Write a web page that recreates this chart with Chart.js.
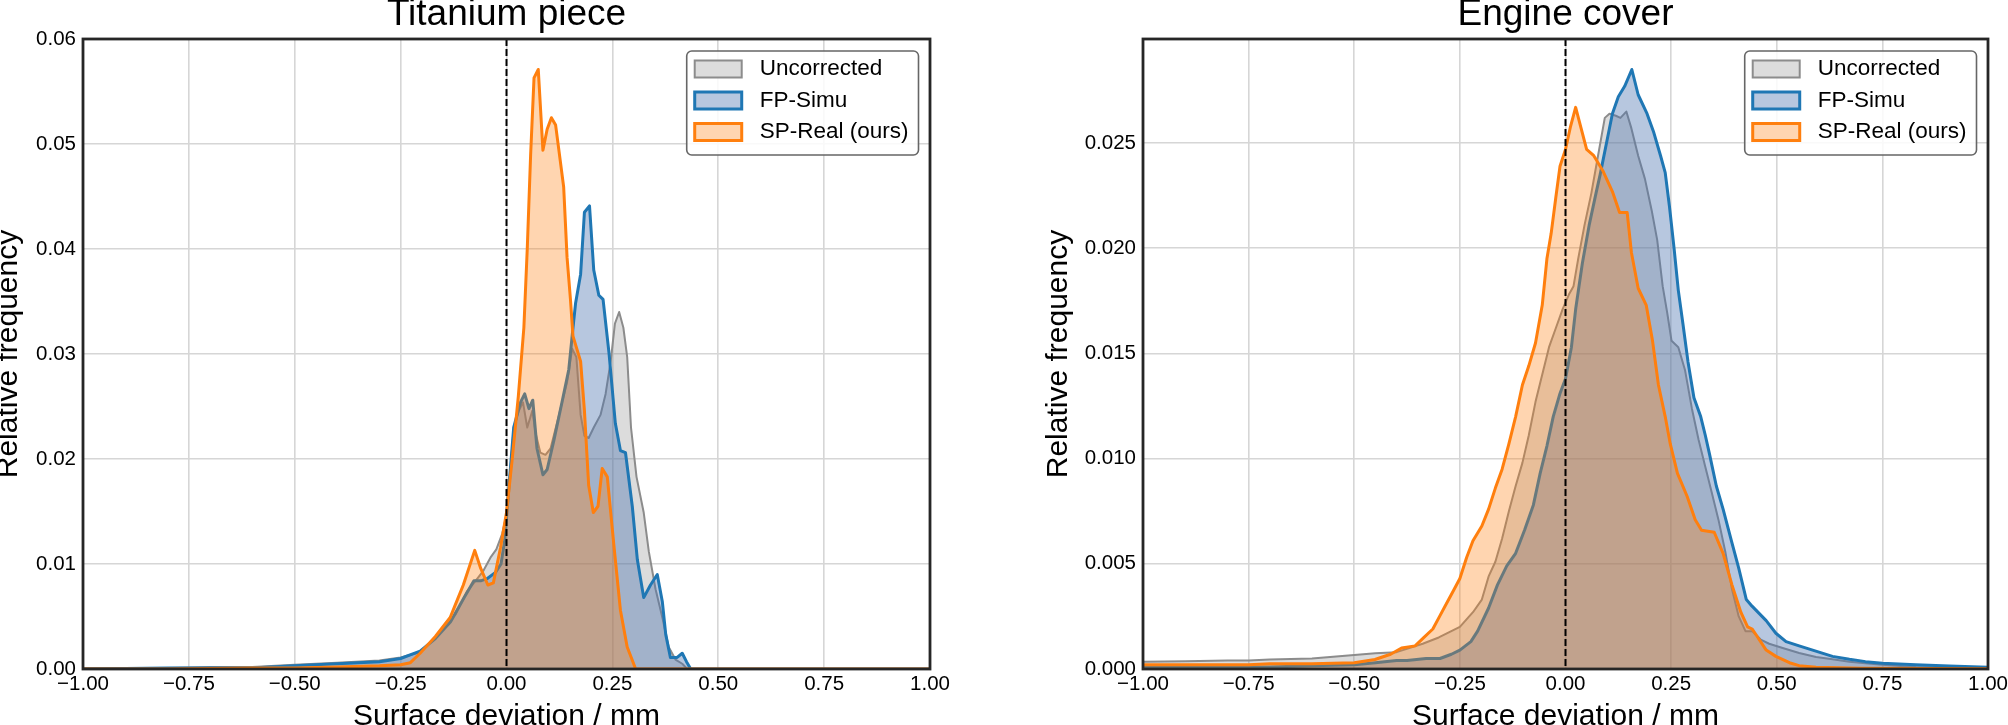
<!DOCTYPE html>
<html lang="en">
<head>
  <meta charset="UTF-8" />
  <title>Surface deviation histograms</title>
  <script src="https://cdn.jsdelivr.net/npm/chart.js"></script>
  <style>
    html, body {
      margin: 0;
      padding: 0;
      background: #fff;
      overflow: hidden;
    }
    .panel {
      position: absolute;
      top: 0;
      width: 1000px;
      height: 740px;
    }
  </style>
</head>
<body>
  <div class="panel" style="left:0"><canvas id="chart-ti" width="1000" height="740"></canvas></div>
  <div class="panel" style="left:1008px"><canvas id="chart-ec" width="1000" height="740"></canvas></div>

  <script>
    // ---- tick values / labels ----
    const xTickValues = [-1, -0.75, -0.5, -0.25, 0, 0.25, 0.5, 0.75, 1];
    const xTickLabels = ['\u22121.00', '\u22120.75', '\u22120.50', '\u22120.25', '0.00', '0.25', '0.50', '0.75', '1.00'];
    const tiYTickValues = [0, 0.01, 0.02, 0.03, 0.04, 0.05, 0.06];
    const tiYTickLabels = ['0.00', '0.01', '0.02', '0.03', '0.04', '0.05', '0.06'];
    const ecYTickValues = [0, 0.005, 0.01, 0.015, 0.02, 0.025];
    const ecYTickLabels = ['0.000', '0.005', '0.010', '0.015', '0.020', '0.025'];
    const zeroLineX = 0;

    const seriesNames = ['Uncorrected', 'FP-Simu', 'SP-Real (ours)'];

    // ---- Titanium piece ----
    const tiUncX = [-1.0, -0.9, -0.8, -0.7, -0.6, -0.5, -0.4, -0.3, -0.25, -0.204, -0.173, -0.12, -0.093, -0.073, -0.054, -0.038, -0.024, -0.01, 0, 0.009, 0.017, 0.029, 0.039, 0.049, 0.061, 0.069, 0.08, 0.092, 0.104, 0.124, 0.143, 0.155, 0.165, 0.175, 0.184, 0.194, 0.206, 0.222, 0.234, 0.246, 0.256, 0.266, 0.276, 0.285, 0.294, 0.307, 0.324, 0.336, 0.352, 0.368, 0.383, 0.399, 0.415, 0.427, 0.5, 1.0];
    const tiUncY = [0.0001, 0.0001, 0.0001, 0.0002, 0.0002, 0.0004, 0.0006, 0.0008, 0.0011, 0.0016, 0.0028, 0.0052, 0.0074, 0.0084, 0.0094, 0.0106, 0.0114, 0.0129, 0.0147, 0.019, 0.023, 0.0246, 0.0254, 0.023, 0.0246, 0.0224, 0.0206, 0.0204, 0.021, 0.0242, 0.0273, 0.0305, 0.0297, 0.0242, 0.0222, 0.022, 0.023, 0.0242, 0.0262, 0.0293, 0.0329, 0.034, 0.0325, 0.0297, 0.023, 0.0183, 0.0149, 0.0112, 0.0076, 0.0049, 0.0021, 0.0009, 0.0005, 0, 0, 0];

    const tiFpX = [-1.0, -0.8, -0.6, -0.5, -0.4, -0.3, -0.25, -0.204, -0.168, -0.132, -0.1, -0.077, -0.061, -0.046, -0.026, -0.013, -0.004, 0.006, 0.017, 0.033, 0.043, 0.053, 0.062, 0.072, 0.086, 0.096, 0.112, 0.131, 0.147, 0.157, 0.163, 0.175, 0.184, 0.196, 0.206, 0.218, 0.228, 0.242, 0.257, 0.269, 0.281, 0.297, 0.309, 0.324, 0.34, 0.356, 0.368, 0.376, 0.387, 0.403, 0.415, 0.425, 0.435, 0.5, 1.0];
    const tiFpY = [0.0, 0.0001, 0.0001, 0.0003, 0.0005, 0.0007, 0.001, 0.0017, 0.0029, 0.0045, 0.0068, 0.0084, 0.0084, 0.0086, 0.0092, 0.010, 0.0123, 0.0175, 0.023, 0.0254, 0.0262, 0.0248, 0.0256, 0.021, 0.0185, 0.019, 0.0218, 0.0254, 0.0285, 0.0325, 0.0348, 0.0376, 0.0435, 0.0441, 0.038, 0.0356, 0.0352, 0.0301, 0.0234, 0.0208, 0.0206, 0.0155, 0.0104, 0.0068, 0.008, 0.009, 0.0064, 0.0033, 0.0011, 0.0011, 0.0015, 0.0007, 0, 0, 0];

    const tiSpX = [-1.0, -0.8, -0.6, -0.5, -0.4, -0.3, -0.25, -0.227, -0.204, -0.168, -0.133, -0.12, -0.102, -0.075, -0.061, -0.044, -0.031, -0.014, 0, 0.013, 0.028, 0.041, 0.049, 0.057, 0.065, 0.075, 0.086, 0.096, 0.106, 0.116, 0.135, 0.143, 0.151, 0.157, 0.175, 0.184, 0.194, 0.205, 0.216, 0.226, 0.238, 0.254, 0.269, 0.285, 0.305, 0.5, 1.0];
    const tiSpY = [0.0, 0.0, 0.0001, 0.0001, 0.0002, 0.0003, 0.0004, 0.0006, 0.0015, 0.0031, 0.0049, 0.0062, 0.008, 0.0113, 0.0096, 0.008, 0.0082, 0.0116, 0.0149, 0.0198, 0.026, 0.0325, 0.040, 0.049, 0.0563, 0.0571, 0.0494, 0.0514, 0.0525, 0.0518, 0.0459, 0.0392, 0.0352, 0.0317, 0.0293, 0.0246, 0.0175, 0.0149, 0.0155, 0.0191, 0.0183, 0.0116, 0.0056, 0.0021, 0, 0, 0];

    // ---- Engine cover ----
    const ecUncX = [-1.0, -0.9, -0.8, -0.75, -0.7, -0.6, -0.5, -0.45, -0.4, -0.338, -0.3, -0.25, -0.219, -0.198, -0.182, -0.166, -0.15, -0.134, -0.118, -0.102, -0.087, -0.071, -0.055, -0.039, -0.023, -0.007, 0.008, 0.019, 0.03, 0.045, 0.061, 0.077, 0.093, 0.104, 0.119, 0.13, 0.144, 0.156, 0.172, 0.188, 0.204, 0.217, 0.23, 0.241, 0.251, 0.267, 0.283, 0.299, 0.315, 0.331, 0.346, 0.362, 0.378, 0.394, 0.41, 0.426, 0.442, 0.462, 0.482, 0.514, 0.553, 0.593, 0.632, 0.672, 0.71, 0.75, 0.829, 0.9, 1.0];
    const ecUncY = [0.00035, 0.00037, 0.0004, 0.0004, 0.00045, 0.0005, 0.00067, 0.00075, 0.0008, 0.0012, 0.0015, 0.002, 0.0027, 0.0033, 0.0044, 0.0051, 0.0062, 0.0075, 0.0087, 0.0098, 0.0111, 0.0127, 0.014, 0.0153, 0.0162, 0.0171, 0.0178, 0.0182, 0.0195, 0.0211, 0.0226, 0.0244, 0.0262, 0.0264, 0.0263, 0.0262, 0.0265, 0.0257, 0.0244, 0.0233, 0.0218, 0.0204, 0.0182, 0.0169, 0.0156, 0.0153, 0.0142, 0.0124, 0.0109, 0.0096, 0.0084, 0.0071, 0.0056, 0.0038, 0.0025, 0.0018, 0.0018, 0.0014, 0.0012, 0.001, 0.00076, 0.00057, 0.00046, 0.00035, 0.00027, 0.0002, 0.0001, 0.00006, 0.00003];

    const ecFpX = [-1.0, -0.9, -0.8, -0.7, -0.6, -0.5, -0.45, -0.4, -0.375, -0.33, -0.297, -0.27, -0.25, -0.224, -0.208, -0.182, -0.161, -0.139, -0.118, -0.097, -0.076, -0.06, -0.044, -0.029, -0.013, 0, 0.014, 0.024, 0.04, 0.056, 0.072, 0.082, 0.098, 0.111, 0.125, 0.14, 0.157, 0.172, 0.193, 0.209, 0.225, 0.236, 0.246, 0.257, 0.267, 0.278, 0.29, 0.304, 0.32, 0.331, 0.341, 0.357, 0.373, 0.394, 0.41, 0.428, 0.441, 0.475, 0.498, 0.522, 0.553, 0.585, 0.632, 0.672, 0.71, 0.75, 0.829, 0.908, 1.0];
    const ecFpY = [0.0001, 0.0001, 0.0001, 0.0001, 0.00015, 0.0002, 0.0003, 0.0004, 0.0004, 0.0005, 0.0005, 0.0007, 0.0009, 0.0013, 0.0018, 0.0029, 0.004, 0.0049, 0.0055, 0.0066, 0.0078, 0.0093, 0.0106, 0.012, 0.0131, 0.0138, 0.0153, 0.0171, 0.0193, 0.0211, 0.0226, 0.0235, 0.0251, 0.0264, 0.0272, 0.0277, 0.0285, 0.0273, 0.0264, 0.0255, 0.0244, 0.0236, 0.022, 0.02, 0.018, 0.0164, 0.0146, 0.0129, 0.012, 0.0111, 0.0102, 0.0087, 0.0076, 0.006, 0.0048, 0.0033, 0.003, 0.0023, 0.0017, 0.0013, 0.0011, 0.0009, 0.0006, 0.00046, 0.00035, 0.00027, 0.0002, 0.00014, 0.00008];

    const ecSpX = [-1.0, -0.9, -0.8, -0.75, -0.7, -0.6, -0.5, -0.451, -0.414, -0.388, -0.356, -0.335, -0.314, -0.298, -0.282, -0.266, -0.25, -0.234, -0.219, -0.198, -0.182, -0.166, -0.15, -0.134, -0.118, -0.102, -0.087, -0.071, -0.055, -0.044, -0.034, -0.023, -0.013, 0, 0.012, 0.024, 0.037, 0.05, 0.067, 0.088, 0.111, 0.128, 0.146, 0.156, 0.172, 0.191, 0.206, 0.22, 0.236, 0.248, 0.265, 0.288, 0.307, 0.322, 0.352, 0.373, 0.394, 0.415, 0.431, 0.442, 0.475, 0.498, 0.53, 0.553, 0.593, 0.7, 1.0];
    const ecSpY = [0.0002, 0.0002, 0.0002, 0.0002, 0.00025, 0.00025, 0.0003, 0.00045, 0.0007, 0.001, 0.0011, 0.0015, 0.0019, 0.0025, 0.0031, 0.0037, 0.0043, 0.0053, 0.0061, 0.0068, 0.0076, 0.0086, 0.0095, 0.0107, 0.012, 0.0135, 0.0144, 0.0155, 0.0173, 0.0195, 0.0207, 0.0224, 0.0239, 0.0247, 0.0258, 0.0267, 0.0257, 0.0247, 0.0244, 0.0237, 0.0227, 0.0217, 0.0217, 0.0198, 0.0181, 0.0173, 0.0156, 0.0135, 0.012, 0.0107, 0.0093, 0.0082, 0.0071, 0.0066, 0.0065, 0.0055, 0.004, 0.0027, 0.002, 0.0019, 0.0009, 0.0006, 0.0003, 0.00016, 0.00008, 0.00003, 0.00001];

    // ---- styling ----
    const FONT = "'Liberation Sans', Arial, Helvetica, sans-serif";
    const GRID = '#d6d6d6';
    const styles = [
      { line: '#8c8c8c', fill: 'rgba(128,128,128,0.28)', width: 2, order: 2 },
      { line: '#1f77b4', fill: 'rgba(76,114,176,0.40)', width: 3, order: 1 },
      { line: '#ff7f0e', fill: 'rgba(255,127,14,0.33)', width: 3, order: 0 }
    ];

    Chart.defaults.font.family = FONT;
    Chart.defaults.color = '#000';

    function points(xs, ys) {
      return xs.map((x, i) => ({ x: x, y: ys[i] }));
    }

    function roundRect(ctx, x, y, w, h, r) {
      ctx.beginPath();
      ctx.moveTo(x + r, y);
      ctx.lineTo(x + w - r, y);
      ctx.arcTo(x + w, y, x + w, y + r, r);
      ctx.lineTo(x + w, y + h - r);
      ctx.arcTo(x + w, y + h, x + w - r, y + h, r);
      ctx.lineTo(x + r, y + h);
      ctx.arcTo(x, y + h, x, y + h - r, r);
      ctx.lineTo(x, y + r);
      ctx.arcTo(x, y, x + r, y, r);
      ctx.closePath();
    }

    // dashed zero line + dark frame round the plot
    const frameAndZero = {
      id: 'frameAndZero',
      afterDatasetsDraw(chart) {
        const { ctx, chartArea: a } = chart;
        const px = chart.scales.x.getPixelForValue(zeroLineX);
        ctx.save();
        ctx.strokeStyle = '#000';
        ctx.lineWidth = 2;
        ctx.setLineDash([7, 3]);
        ctx.beginPath();
        ctx.moveTo(px, a.top);
        ctx.lineTo(px, a.bottom);
        ctx.stroke();
        ctx.setLineDash([]);
        ctx.strokeStyle = '#262626';
        ctx.lineWidth = 2.8;
        ctx.strokeRect(a.left, a.top, a.right - a.left, a.bottom - a.top);
        ctx.restore();
      }
    };

    // matplotlib-like legend box in the upper right corner
    const boxLegend = {
      id: 'boxLegend',
      afterDraw(chart) {
        const { ctx, chartArea: a } = chart;
        const sets = chart.data.datasets;
        ctx.save();
        ctx.font = '22.5px ' + FONT;
        const textW = Math.max(...sets.map(d => ctx.measureText(d.label).width));
        const padL = 8, patchW = 47, patchH = 17, gap = 18, padR = 10, rowH = 31.5;
        const w = padL + patchW + gap + textW + padR;
        const h = 104;
        const left = a.right - 11.5 - w;
        const top = a.top + 12;
        roundRect(ctx, left, top, w, h, 5);
        ctx.fillStyle = 'rgba(255,255,255,0.85)';
        ctx.fill();
        ctx.strokeStyle = '#666';
        ctx.lineWidth = 1.6;
        ctx.stroke();
        sets.forEach((d, i) => {
          const cy = top + 18 + i * rowH;
          ctx.fillStyle = '#fff';
          ctx.fillRect(left + padL, cy - patchH / 2, patchW, patchH);
          ctx.fillStyle = d.backgroundColor;
          ctx.fillRect(left + padL, cy - patchH / 2, patchW, patchH);
          ctx.strokeStyle = d.borderColor;
          ctx.lineWidth = d.borderWidth;
          ctx.strokeRect(left + padL, cy - patchH / 2, patchW, patchH);
          ctx.fillStyle = '#000';
          ctx.textBaseline = 'middle';
          ctx.textAlign = 'left';
          ctx.fillText(d.label, left + padL + patchW + gap, cy);
        });
        ctx.restore();
      }
    };

    function makeChart(id, opts) {
      const datasets = opts.series.map((s, i) => ({
        label: seriesNames[i],
        data: points(s[0], s[1]),
        borderColor: styles[i].line,
        backgroundColor: styles[i].fill,
        borderWidth: styles[i].width,
        order: styles[i].order,
        fill: 'origin',
        pointRadius: 0,
        tension: 0,
        borderJoinStyle: 'round'
      }));

      return new Chart(document.getElementById(id), {
        type: 'line',
        data: { datasets: datasets },
        options: {
          responsive: false,
          animation: false,
          devicePixelRatio: 1,
          events: [],
          layout: { padding: { left: 0, top: 0, right: opts.padRight, bottom: 0 } },
          plugins: {
            legend: { display: false },
            tooltip: { enabled: false },
            title: {
              display: true,
              text: opts.title,
              fullSize: false,
              color: '#000',
              font: { family: FONT, size: 37, weight: 'normal', lineHeight: 0.773 },
              padding: { top: 0, bottom: 10.4 }
            }
          },
          scales: {
            x: {
              type: 'linear',
              min: -1,
              max: 1,
              afterBuildTicks: s => { s.ticks = xTickValues.map(v => ({ value: v })); },
              afterFit: s => { s.height = 71; s.paddingLeft = 0; s.paddingRight = 0; },
              grid: { color: GRID, lineWidth: 1.6, drawTicks: false },
              border: { display: false },
              ticks: {
                padding: 3,
                maxRotation: 0,
                autoSkip: false,
                color: '#000',
                font: { family: FONT, size: 20.5 },
                callback: (v, i) => xTickLabels[i]
              },
              title: {
                display: true,
                text: 'Surface deviation / mm',
                color: '#000',
                font: { family: FONT, size: 30, lineHeight: 0.5 },
                padding: { top: 0, bottom: 15.8 }
              }
            },
            y: {
              type: 'linear',
              min: 0,
              max: opts.yMax,
              afterBuildTicks: s => { s.ticks = opts.yTicks.map(v => ({ value: v })); },
              afterFit: s => { s.width = opts.axisWidth; s.paddingTop = 0; s.paddingBottom = 0; },
              grid: { color: GRID, lineWidth: 1.6, drawTicks: false },
              border: { display: false },
              ticks: {
                padding: 7,
                color: '#000',
                font: { family: FONT, size: 20.5 },
                callback: (v, i) => opts.yLabels[i]
              },
              title: {
                display: true,
                text: 'Relative frequency',
                color: '#000',
                font: { family: FONT, size: 30, lineHeight: 0.5 },
                padding: { top: opts.yTitlePad, bottom: 0 }
              }
            }
          }
        },
        plugins: [frameAndZero, boxLegend]
      });
    }

    makeChart('chart-ti', {
      title: 'Titanium piece',
      series: [[tiUncX, tiUncY], [tiFpX, tiFpY], [tiSpX, tiSpY]],
      yMax: 0.06,
      yTicks: tiYTickValues,
      yLabels: tiYTickLabels,
      axisWidth: 83,
      padRight: 70,
      yTitlePad: 1
    });

    makeChart('chart-ec', {
      title: 'Engine cover',
      series: [[ecUncX, ecUncY], [ecFpX, ecFpY], [ecSpX, ecSpY]],
      yMax: 0.02995,
      yTicks: ecYTickValues,
      yLabels: ecYTickLabels,
      axisWidth: 135,
      padRight: 20,
      yTitlePad: 43.25
    });
  </script>
</body>
</html>
